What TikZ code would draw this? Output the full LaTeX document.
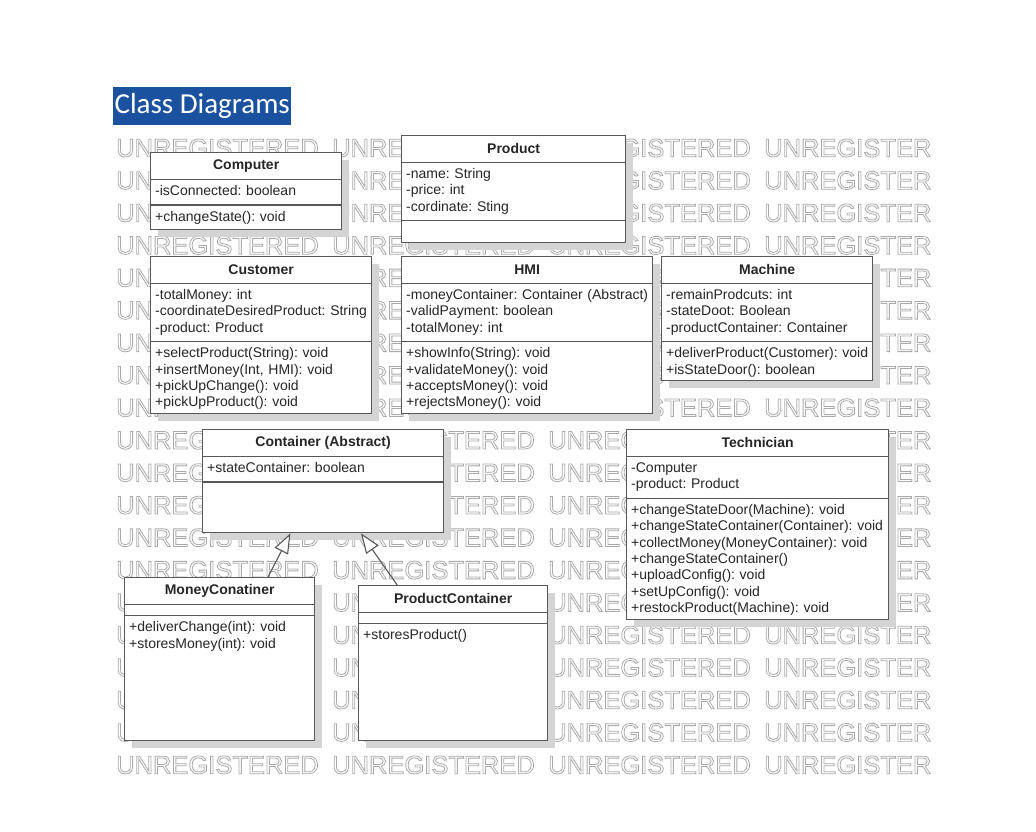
\documentclass[tikz,border=0pt]{standalone}
\usepackage{fontspec}
\usepackage{tikz}
\usetikzlibrary{arrows.meta, shapes, positioning, calc, shadows}

\newfontfamily\umlfont{Liberation Sans}
\newfontfamily\headfont{Carlito}
\newcommand{\umlsize}{\fontsize{14pt}{16.3pt}\selectfont}
\newcommand{\hollow}[1]{\special{pdf:literal direct 1 Tr 0.8 w}#1\special{pdf:literal direct 0 Tr}}
\frenchspacing

\definecolor{titleblue}{RGB}{26,82,160}
\definecolor{umlgray}{RGB}{88,88,88}
\definecolor{shadowgray}{RGB}{212,212,212}
\definecolor{markgray}{RGB}{170,170,170}

\begin{document}
\begin{tikzpicture}
  [x=1pt, y=-1pt,
    umlbox/.style={
        rectangle,
        draw=umlgray,
        line width=1.3pt,
        fill=white,
        anchor=north west,
        inner sep=0pt,
        drop shadow={shadow xshift=7pt, shadow yshift=-7pt, fill=shadowgray, opacity=1},
      },
    umlhead/.style={anchor=north, minimum height=27pt, inner sep=0pt, text=black!85, font=\umlfont\umlsize\bfseries},
    members/.style={anchor=north west, text width=320pt, align=left, inner xsep=5pt, inner ysep=4.5pt,
        text=black!85, font=\umlfont\umlsize, execute at begin node=\strut, execute at end node=\strut},
    emptypart/.style={anchor=north west, minimum height=11pt, inner sep=0pt},
    divider/.style={draw=umlgray, line width=1.3pt},
    generalize/.style={draw=umlgray, line width=1.1pt, -{Triangle[open, length=20pt, width=15pt, fill=white]}},
    watermark/.style={anchor=west, inner sep=0pt, text=markgray, font=\umlfont\fontsize{25.5pt}{26pt}\selectfont},
  ]
  \path[fill=white, use as bounding box] (0,0) rectangle (1036,831);

  % watermark rows
  \foreach \r in {0,...,19}
    \foreach \c/\w in {116/UNREGISTERED, 332/UNREGISTERED, 548/UNREGISTERED, 764/UNREGISTER}
      \node[watermark] (wm-\r-\c) at (\c, 148+32.47*\r) {\hollow{\w}};

  \node[fill=titleblue, text=white, anchor=north west, minimum width=178pt, minimum height=38pt, inner sep=0pt,
    font=\headfont\fontsize{29pt}{30pt}\selectfont] (title) at (113,87) {Class Diagrams};

  % Computer
  \node[umlbox, minimum width=191pt, minimum height=77pt] (computer) at (150,152) {};
  \node[umlhead] (computer-h) at (computer.north) {Computer};
  \draw[divider] (computer-h.south -| computer.west) -- (computer-h.south -| computer.east);
  \node[members] (computer-a) at (computer-h.south -| computer.west) {-isConnected: boolean};
  \draw[divider] (computer-a.south -| computer.west) -- (computer-a.south -| computer.east);
  \node[members] (computer-m) at (computer-a.south -| computer.west) {+changeState(): void};

  % Product
  \node[umlbox, minimum width=224pt, minimum height=107pt] (product) at (401,135) {};
  \node[umlhead] (product-h) at (product.north) {Product};
  \draw[divider] (product-h.south -| product.west) -- (product-h.south -| product.east);
  \node[members] (product-a) at (product-h.south -| product.west) {-name: String\\-price: int\\-cordinate: Sting};
  \draw[divider] (product-a.south -| product.west) -- (product-a.south -| product.east);

  % Customer
  \node[umlbox, minimum width=221pt, minimum height=157pt] (customer) at (150,256) {};
  \node[umlhead] (customer-h) at (customer.north) {Customer};
  \draw[divider] (customer-h.south -| customer.west) -- (customer-h.south -| customer.east);
  \node[members] (customer-a) at (customer-h.south -| customer.west) {-totalMoney: int\\-coordinateDesiredProduct: String\\-product: Product};
  \draw[divider] (customer-a.south -| customer.west) -- (customer-a.south -| customer.east);
  \node[members] (customer-m) at (customer-a.south -| customer.west) {+selectProduct(String): void\\+insertMoney(Int, HMI): void\\+pickUpChange(): void\\+pickUpProduct(): void};

  % HMI
  \node[umlbox, minimum width=251pt, minimum height=157pt] (hmi) at (401,256) {};
  \node[umlhead] (hmi-h) at (hmi.north) {HMI};
  \draw[divider] (hmi-h.south -| hmi.west) -- (hmi-h.south -| hmi.east);
  \node[members] (hmi-a) at (hmi-h.south -| hmi.west) {-moneyContainer: Container (Abstract)\\-validPayment: boolean\\-totalMoney: int};
  \draw[divider] (hmi-a.south -| hmi.west) -- (hmi-a.south -| hmi.east);
  \node[members] (hmi-m) at (hmi-a.south -| hmi.west) {+showInfo(String): void\\+validateMoney(): void\\+acceptsMoney(): void\\+rejectsMoney(): void};

  % Machine
  \node[umlbox, minimum width=211pt, minimum height=124pt] (machine) at (661,256) {};
  \node[umlhead] (machine-h) at (machine.north) {Machine};
  \draw[divider] (machine-h.south -| machine.west) -- (machine-h.south -| machine.east);
  \node[members] (machine-a) at (machine-h.south -| machine.west) {-remainProdcuts: int\\-stateDoot: Boolean\\-productContainer: Container};
  \draw[divider] (machine-a.south -| machine.west) -- (machine-a.south -| machine.east);
  \node[members] (machine-m) at (machine-a.south -| machine.west) {+deliverProduct(Customer): void\\+isStateDoor(): boolean};

  % Container (Abstract)
  \node[umlbox, minimum width=241pt, minimum height=103pt] (container) at (202,429) {};
  \node[umlhead] (container-h) at (container.north) {Container (Abstract)};
  \draw[divider] (container-h.south -| container.west) -- (container-h.south -| container.east);
  \node[members] (container-a) at (container-h.south -| container.west) {+stateContainer: boolean};
  \draw[divider] (container-a.south -| container.west) -- (container-a.south -| container.east);

  % Technician
  \node[umlbox, minimum width=262pt, minimum height=190pt] (technician) at (626,429) {};
  \node[umlhead] (technician-h) at (technician.north) {Technician};
  \draw[divider] (technician-h.south -| technician.west) -- (technician-h.south -| technician.east);
  \node[members] (technician-a) at (technician-h.south -| technician.west) {-Computer\\-product: Product};
  \draw[divider] (technician-a.south -| technician.west) -- (technician-a.south -| technician.east);
  \node[members] (technician-m) at (technician-a.south -| technician.west) {+changeStateDoor(Machine): void\\+changeStateContainer(Container): void\\+collectMoney(MoneyContainer): void\\+changeStateContainer()\\+uploadConfig(): void\\+setUpConfig(): void\\+restockProduct(Machine): void};

  % MoneyConatiner
  \node[umlbox, minimum width=190pt, minimum height=163pt] (moneycont) at (124,577) {};
  \node[umlhead] (moneycont-h) at (moneycont.north) {MoneyConatiner};
  \draw[divider] (moneycont-h.south -| moneycont.west) -- (moneycont-h.south -| moneycont.east);
  \node[emptypart] (moneycont-a) at (moneycont-h.south -| moneycont.west) {};
  \draw[divider] (moneycont-a.south -| moneycont.west) -- (moneycont-a.south -| moneycont.east);
  \node[members] (moneycont-m) at (moneycont-a.south -| moneycont.west) {+deliverChange(int): void\\+storesMoney(int): void};

  % ProductContainer
  \node[umlbox, minimum width=189pt, minimum height=155pt] (productcont) at (358,585) {};
  \node[umlhead] (productcont-h) at (productcont.north) {ProductContainer};
  \draw[divider] (productcont-h.south -| productcont.west) -- (productcont-h.south -| productcont.east);
  \node[emptypart] (productcont-a) at (productcont-h.south -| productcont.west) {};
  \draw[divider] (productcont-a.south -| productcont.west) -- (productcont-a.south -| productcont.east);
  \node[members] (productcont-m) at (productcont-a.south -| productcont.west) {+storesProduct()};

  % generalizations
  \draw[generalize] ($(moneycont.north west)!0.753!(moneycont.north east)$) -- ($(container.south west)!0.365!(container.south east)$);
  \draw[generalize] ($(productcont.north west)!0.206!(productcont.north east)$) -- ($(container.south west)!0.656!(container.south east)$);
\end{tikzpicture}
\end{document}
